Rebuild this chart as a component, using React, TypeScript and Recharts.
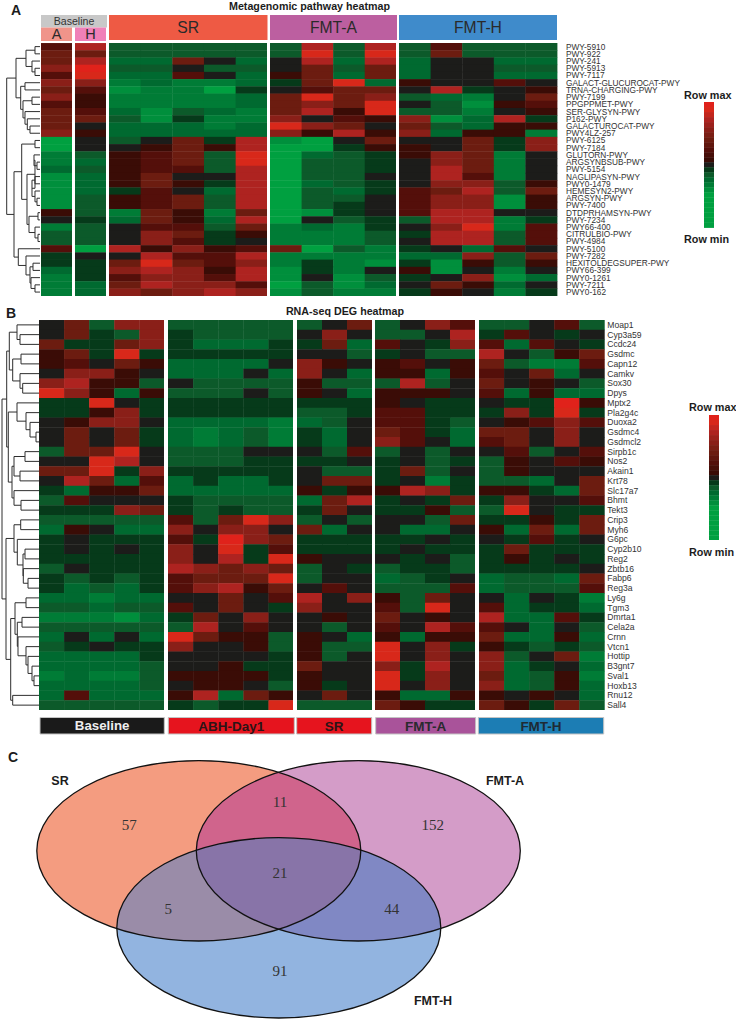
// App.tsx - metagenomic / RNA-seq heatmaps and Venn diagram
import { ScatterChart, Scatter, XAxis, YAxis, ReferenceArea, ReferenceLine } from "recharts";

const FONT = "Liberation Sans, Arial, sans-serif";

const PATHWAYS = [
  "PWY-5910", "PWY-922", "PWY-241", "PWY-5913", "PWY-7117", "GALACT-GLUCUROCAT-PWY", "TRNA-CHARGING-PWY",
  "PWY-7199", "PPGPPMET-PWY", "SER-GLYSYN-PWY", "P162-PWY", "GALACTUROCAT-PWY", "PWY4LZ-257", "PWY-6125",
  "PWY-7184", "GLUTORN-PWY", "ARGSYNBSUB-PWY", "PWY-5154", "NAGLIPASYN-PWY", "PWY0-1479", "HEMESYN2-PWY",
  "ARGSYN-PWY", "PWY-7400", "DTDPRHAMSYN-PWY", "PWY-7234", "PWY66-400", "CITRULBIO-PWY", "PWY-4984",
  "PWY-5100", "PWY-7282", "HEXITOLDEGSUPER-PWY", "PWY66-399", "PWY0-1261", "PWY-7211", "PWY0-162",
];

const GENES = [
  "Moap1", "Cyp3a59", "Ccdc24", "Gsdmc", "Capn12", "Camkv", "Sox30", "Dpys", "Mptx2", "Pla2g4c",
  "Duoxa2", "Gsdmc4", "Gsdmcl2", "Sirpb1c", "Nos2", "Akain1", "Krt78", "Slc17a7", "Bhmt", "Tekt3",
  "Crip3", "Myh6", "G6pc", "Cyp2b10", "Reg2", "Zbtb16", "Fabp6", "Reg3a", "Ly6g", "Tgm3",
  "Dmrta1", "Cela2a", "Crnn", "Vtcn1", "Hottip", "B3gnt7", "Sval1", "Hoxb13", "Rnu12", "Sall4",
];

// panel A values, -6 (row min) .. 6 (row max)
const A_BASE_A = [2, 3, 3, 4, 2, 4, 3, 4, 2, 3, 3, 3, 4, -6, -6, -4, -4, -3, -5, -5, -5, -5, -5, 1, 0, -4, -2, -2, 2, -1, -1, -3, -4, -4, -4];
const A_BASE_H = [5, 3, 5, 6.5, 6, 4, 2, 1, 1, 2, 3, 0, 1, 0, 0, -2, -3, -2, -3, -3, -3, -2, -2, -2, -1, -2, -2, -2, -6, 0, -1, -1, -1, -3, -3];
const A_SR = [
  [-2, -2, -2, -2, -2], [-2, -2, -2, -2, -2], [-3, -3, 3, 0, -3], [-2, -2, 0, -2, -2], [-3, -3, 2, 0, -3],
  [-4, -3, -4, -4, -3], [-5, -4, -4, -6, -1], [-4, -4, -4, -4, -3], [-4, -4, -4, -4, -3], [-3, -5, -2, -3, -4],
  [-2, -5, -1, -4, -4], [-3, -3, -3, -4, -3], [-3, -3, -3, -3, -3], [-2, 0, 3, -1, 5], [0, 1, 3, 1, 5],
  [1, 2, 3, -2, 6], [1, 2, 3, -2, 6], [1, 2, 2, -2, 5], [1, 3, 0, 0, 5], [1, 3, 1, -1, 5],
  [-1, 2, 0, -3, 5], [1, 2, 3, -2, 5], [1, 2, 3, -2, 5], [-4, 3, 1, -4, 3], [-3, 3, 1, -3, 5],
  [0, 2, 2, -2, 3], [0, 4, 3, -1, 1], [0, 4, 2, -1, 0], [5, 1, 4, 1, 2], [0, 5, 2, 2, 5],
  [3, 6, 3, 2, 4], [4, 5, 4, 1, 5], [2, 4, 4, 2, 5], [3, 5, 4, 4, 2], [4, 3, 4, 5, 4],
];
const A_FMT_A = [
  [-2, 5, -2, 5], [-2, 6, -2, 6], [0, 5, -3, 5], [0, 3, -2, 3], [1, 3, -3, 3],
  [-1, 3, 6, -3], [0, 2, 3, 3], [3, 6, 3, 4], [3, 4, 3, 6], [3, 5, 1, 6],
  [4, 0, 2, 1], [6, 4, 3, 0], [4, 1, 5, 1], [-5, -6, 0, 3], [-6, -6, -1, 1],
  [-6, -3, -2, -1], [-6, -2, -2, -1], [-6, -2, -2, -1], [-6, -2, -2, 0], [-6, -3, -2, -1],
  [-6, -2, -3, -1], [-6, -2, -2, 0], [-6, -2, -1, 0], [-6, -5, -1, 0], [-6, 0, -2, -1],
  [-4, -3, -4, -1], [-4, -4, -4, -2], [-4, -4, -4, -2], [3, -6, -2, -4], [-4, -4, -4, -4],
  [-4, -1, -4, -5], [-5, -1, -4, 0], [-5, 0, -5, -2], [-6, -2, -5, -3], [-5, -2, -4, -4],
];
const A_FMT_H = [
  [-2, 2, -2, -2, -2], [-2, 3, -2, -2, -2], [-3, 0, 0, -3, -3], [-3, 0, 0, -2, -2], [-3, 0, 0, -3, -3],
  [1, 0, 0, 2, 0], [0, 5, -1, 0, 1], [-2, -3, -4, 0, 3], [0, -2, -5, 1, 2], [-2, -2, -4, 0, 1],
  [4, -5, -3, 5, -1], [3, -2, -3, 1, 1], [4, -3, 1, 1, -4], [0, 0, 3, -1, 4], [1, 0, 3, -1, 4],
  [1, 4, 3, -4, 0], [0, 4, 3, -4, 0], [0, 5, 3, -4, 0], [0, 5, 2, -4, 0], [0, 4, 4, -2, 1],
  [2, 3, 5, -2, 3], [2, 4, 4, -5, 1], [2, 4, 4, -5, 1], [2, 5, 5, 0, 0], [-2, 5, 5, -4, -1],
  [0, 4, 6, -4, 2], [-1, 5, 5, -2, 2], [0, 5, 5, -2, 2], [-1, 0, -3, 2, 0], [-3, -3, 4, -2, 3],
  [-1, -5, 1, -2, 1], [1, -5, 0, -4, 0], [-1, 0, 4, -5, -3], [0, 3, 1, -3, 0], [-1, 1, 0, -4, -1],
];

// panel B values
const B_BASE = [
  [0, 3, -2, 4, 4], [0, 3, -1, -2, 4], [3, -1, -1, 3, 4], [1, 3, -1, 6, -1], [1, 2, 0, 3, 1],
  [0, 4, 4, 1, 0], [4, 5, 1, 1, -2], [6, 4, 1, -3, 1], [-1, -1, 6, 0, -1], [-1, -1, 1, 4, -1],
  [0, 1, 4, 4, 0], [0, 3, 0, 3, -1], [0, 3, 0, 3, -1], [-2, 3, 3, 6, 0], [0, 0, 6, 5, 0],
  [3, 3, 6, -1, 4], [0, 5, 3, -3, 2], [-1, -3, 1, 1, 3], [-2, 2, 0, 0, 0], [-1, -1, -1, 4, 3],
  [-2, -2, -2, -2, -2], [-3, 1, 0, -3, -3], [-1, 0, -1, -1, -1], [-1, 0, -1, 0, -1], [-1, -1, -1, -1, -1],
  [-2, 0, -1, -1, -1], [-1, -2, -1, -2, -1], [-1, -3, -2, -3, -1], [-3, -3, -4, -3, -3], [-2, -2, -3, -2, -2],
  [-4, -4, -4, -5, -3], [-2, -2, -2, -2, -2], [-3, 0, -3, 0, -3], [-2, -1, 0, -1, -1], [-3, -3, -3, -3, -1],
  [-3, -3, -3, -3, -2], [-4, -3, -4, -4, -2], [-3, -3, -3, -3, -2], [-3, 2, -3, -3, -3], [-2, -2, -2, -2, -2],
];
const B_ABH = [
  [-2, -2, -2, -2, -2], [-1, -2, -2, -2, -2], [-1, -3, -3, -3, -1], [-1, -1, -1, -1, -1], [-3, -3, -3, -3, 0],
  [-3, -3, -3, 0, -3], [0, -2, -2, -2, -2], [-2, -2, -2, 0, -2], [-1, -1, -1, -1, -1], [-1, -1, -1, -1, -1],
  [-3, -3, -3, -3, -4], [-3, -4, -3, -2, -4], [-3, -4, -3, -2, -4], [-2, -2, -2, 0, 0], [-2, -2, -2, -1, -1],
  [-1, -1, -1, -1, -1], [-3, -1, -3, -3, -1], [-3, -3, -3, -3, -3], [-1, -2, -2, -2, -2], [-1, -2, -1, -2, -2],
  [2, -2, 3, 6, 4], [4, 0, 4, 4, 0], [2, -1, 6.5, 4, 3], [4, 0, 6, -1, 2], [4, 0, 5, -1, 6],
  [5, 4, 3, 4, 3], [2, 3, 3, 3, 6], [2, 4, 5, 1, 3], [0, 0, 3, 0, 2], [2, 0, 3, 0, -1],
  [-1, 3, 0, 4, 0], [-2, 5, 0, 2, 0], [6, 3, 1, 1, -2], [4, 0, 0, 1, -2], [0, 0, 0, 0, -1],
  [0, 0, 1, -1, -1], [1, 1, 1, 1, -1], [0, 1, 1, 0, -2], [1, 5, -3, 3, 1], [-1, -2, -1, -1, 6],
];
const B_SR = [
  [-2, 0, 3], [0, 4, 0], [-1, 3, -3], [0, 0, -2], [4, 1, 0], [4, 0, -3], [1, -2, -2], [1, 0, -3], [-1, -1, -1], [-2, -2, -1],
  [-3, -2, 0], [-1, -3, 0], [-1, -3, 0], [0, -2, 2], [-1, -1, 0], [0, -2, -2], [0, 3, 3], [1, -1, 1], [-3, 3, 5], [-1, 3, 0],
  [-2, 0, -2], [3, -3, 0], [-1, -1, -1], [-1, -1, -1], [1, 0, 0], [-2, 0, -1], [-2, 0, 0], [0, 2, 0], [5, 0, 4], [4, 0, 0],
  [0, 1, 0], [0, -2, 0], [1, 0, -3], [1, -2, -2], [1, -2, 0], [3, 0, 0], [1, 0, 0], [1, -1, 0], [0, 3, 0], [-2, -2, -2],
];
const B_FMT_A = [
  [-2, 0, 4, 2], [-2, -2, 0, 5], [2, 0, -1, 4], [-1, 0, -2, -2], [1, 2, 0, 1],
  [1, 1, -3, 1], [-2, 5, -2, 0], [1, 1, 1, 0], [1, 0, -1, -1], [2, 2, -1, -1],
  [2, 2, -1, -2], [3, 2, -1, -3], [4, 2, 0, -3], [-2, 0, -2, 0], [-1, 0, -2, -1],
  [-1, 3, -2, 0], [-1, 0, -4, -1], [1, 5, 4, -1], [-1, 0, -1, 3], [-1, -1, 1, -2],
  [0, 0, -2, 3], [0, -3, -3, 0], [-1, -1, 0, -1], [-1, 0, -1, -1], [0, -1, 0, -2],
  [-2, -1, -1, -2], [-3, -2, -1, 0], [-2, -2, -2, 2], [1, -2, 3, 0], [2, -2, 6, 0],
  [3, 0, 1, 0], [2, 0, 5, 2], [1, -3, 1, 1], [6, 0, 4, -1], [6, 0, 4, 0],
  [4, -1, 5, 0], [6, -1, 4, 0], [6, 0, 4, 0], [1, -3, -3, 1], [3, 1, -1, -1],
];
const B_FMT_H = [
  [-2, -2, 0, 2, -2], [-1, 2, 0, -1, 0], [2, -3, 2, 0, -1], [5, 0, -2, 1, 3], [3, -2, -4, -4, 2],
  [2, 0, 3, -3, 0], [3, 0, 1, 0, -2], [2, -3, 1, -3, -3], [0, -1, -1, 6.5, 1], [-1, 4, -1, 6, -1],
  [0, 1, 2, 4, 2], [3, 3, 0, 4, 0], [2, 3, 0, 4, 0], [0, 2, -2, 0, 2], [-2, 1, 0, 2, 1],
  [-2, 1, 0, 0, 0], [-2, -2, -3, 0, 3], [1, 1, -1, -3, 3], [-1, 4, 0, 0, 2], [-2, 6, 0, -1, -1],
  [-1, -1, 1, -1, 3], [1, -3, 3, -3, 3], [0, -1, 2, -1, 0], [-1, 3, -1, -1, -1], [-1, 1, -1, 0, -1],
  [-1, -1, -1, -1, 0], [-3, -2, -2, -3, 3], [-3, -2, -2, -2, 2], [0, -3, 0, -1, -4], [2, -3, -1, -1, -3],
  [5, -3, -3, 2, -1], [2, 0, -3, 0, -2], [3, -3, -3, 1, -3], [1, -1, -2, -1, -2], [4, -2, 0, 3, -4],
  [4, -3, -1, 0, -3], [3, -3, -2, 1, -4], [4, -3, -2, 1, -3], [1, 0, 1, 0, -3], [3, 1, -1, 3, -2],
];

// colour bar levels, top to bottom
const BAR_LEVELS = [6.5, 6, 5.5, 5, 4.5, 4, 3.5, 3, 2.5, 2, 1.5, 1, 0, -1, -2, -3, -4, -5, -6, -6, -6, -6, -6, -6, -6];

// dendrograms: [merge position, child, child], a bare number is a row
const TREE_A = [6.7,
  [16,
    [26, [35, 0, 1], [32, 2, [35, 3, 4]]],
    [20.7, [25, 5, 6], [23, [32, 7, 8], [25, 9, [27.3, 10, [30, 11, 12]]]]]],
  [14,
    [21.7, [35, 13, 14],
      [27, [35, [34, 15, [37, 16, 17]], [32, [35, 18, 19], [35, 20, [37, 21, 22]]]],
        [29, [38, 23, 24], [35, 25, [38, 26, 27]]]]],
    [18.3, 28, [26, 29, [30, [33, 30, 31], [31, 32, [35, 33, 34]]]]]]];

const TREE_B = [2,
  [6.7,
    [9.3, [17, 0, [20, 1, 2]], [12.7, [21, 3, 4], [20, 5, [22.7, 6, 7]]]],
    [8.3, [17, 8, [26, 9, [30, 10, [36, 11, 12]]]],
      [12, [14, [25, 13, 14], [20, 15, 16]], [14, 17, [21, 18, 19]]]]],
  [6,
    [14, [20.7, 20, 21], [17.3, 22, [23, [25, 23, 24], [23.3, 25, [28, 26, 27]]]]],
    [10.7,
      [15, [26, 28, 29], [17.3, [22, 30, 31], [18, 32, [26, 33, [28, 34, [32, 35, [34, 36, 37]]]]]]],
      [12.7, 38, 39]]]];

const A_HEADERS = ["SR", "FMT-A", "FMT-H"];
const A_HEADER_COLORS = ["#ee5a44", "#bc5fa0", "#3f8bcb"];
const B_FOOTERS = ["Baseline", "ABH-Day1", "SR", "FMT-A", "FMT-H"];
const B_FOOTER_COLORS = ["#1a1a1a", "#e6141e", "#e6141e", "#a9539a", "#1c7db4"];
const B_FOOTER_TEXT = ["#eeeeee", "#2c1416", "#2c1416", "#2a2a2e", "#1e2a34"];

const VENN_SETS = ["SR", "FMT-A", "FMT-H"];
const VENN_FILLS = ["#f49c80", "#d49cc8", "#92b4e0"];
const VENN_COUNTS = [57, 11, 152, 21, 5, 44, 91];

// layout, in page pixels
const A_TOP = 43.4;
const A_HEIGHT = 252.7;
const B_TOP = 320;
const B_HEIGHT = 390;
const A_SPANS = [[109, 267.5], [270, 397], [399, 557]];
const B_SPANS = [[40, 164.3], [168.3, 294.3], [296.7, 371.7], [375.7, 475.7], [478.3, 603.7]];
const VENN_CENTERS = [[198.8, 850.8], [358.3, 850.8], [278.8, 927.8]];
const VENN_RX = 162;
const VENN_RY = 90.2;
const VENN_COUNT_POS = [[129.3, 825], [280, 802.3], [432.7, 825], [280, 873.3], [168.3, 909.3], [391.7, 909.3], [280, 970.7]];
const VENN_NAME_POS = [[60, 780], [505, 780], [433, 1000]];

const HEAT_STOPS = [
  [0, 160, 64], [0, 143, 60], [0, 124, 54], [0, 106, 48], [12, 90, 42], [6, 58, 26], [28, 28, 26],
  [58, 12, 6], [84, 15, 10], [108, 28, 16], [138, 31, 24], [174, 35, 32], [216, 40, 26], [232, 28, 28],
];

function heatColor(v: number) {
  const t = Math.min(13, Math.max(0, v + 6));
  const lo = Math.floor(t);
  const hi = Math.min(13, lo + 1);
  const f = t - lo;
  const c = HEAT_STOPS[lo].map((s, i) => Math.round(s + (HEAT_STOPS[hi][i] - s) * f));
  return `rgb(${c[0]},${c[1]},${c[2]})`;
}

interface HeatProps {
  left: number;
  top: number;
  width: number;
  height: number;
  rows: number[][];
  labels?: string[];
  labelGap?: number;
}

function HeatBlock({ left, top, width, height, rows, labels, labelGap = 0 }: HeatProps) {
  const nCols = rows[0].length;
  const nRows = rows.length;
  const cells = rows.flatMap((row, r) => row.map((value, c) => ({ x: c + 0.5, y: r + 0.5, value })));
  const w = width / nCols;
  const h = height / nRows;
  const labelWidth = labels ? 140 : 0;
  return (
    <div style={{ position: "absolute", left, top }}>
      <ScatterChart width={width + labelWidth} height={height} margin={{ top: 0, right: 0, bottom: 0, left: 0 }}>
        <XAxis type="number" dataKey="x" domain={[0, nCols]} hide />
        {labels ? (
          <YAxis
            type="number"
            dataKey="y"
            orientation="right"
            domain={[0, nRows]}
            reversed
            width={labelWidth}
            ticks={labels.map((_, i) => i + 0.5)}
            interval={0}
            tickFormatter={(v: number) => labels[Math.floor(v)]}
            axisLine={false}
            tickLine={false}
            tickSize={0}
            tickMargin={labelGap}
            tick={{ fontSize: labelGap > 5 ? 8.3 : 8.6, fill: "#333", fontFamily: FONT }}
          />
        ) : (
          <YAxis type="number" dataKey="y" domain={[0, nRows]} reversed hide />
        )}
        <Scatter
          data={cells}
          isAnimationActive={false}
          shape={(p: any) => (
            <rect x={p.cx - w / 2} y={p.cy - h / 2} width={w + 0.4} height={h + 0.4} fill={heatColor(p.payload.value)} />
          )}
        />
      </ScatterChart>
    </div>
  );
}

// walks a tree, collects the dendrogram's lines
function treeLines(node: any, out: number[][]): number {
  const [pos, a, b] = node;
  const yOf = (child: any) => (typeof child === "number" ? child + 0.5 : treeLines(child, out));
  const posOf = (child: any) => (typeof child === "number" ? 40 : child[0]);
  const ya = yOf(a);
  const yb = yOf(b);
  out.push([pos, ya, pos, yb], [pos, ya, posOf(a), ya], [pos, yb, posOf(b), yb]);
  return (ya + yb) / 2;
}

function Dendrogram({ top, height, tree, nRows }: { top: number; height: number; tree: any; nRows: number }) {
  const lines: number[][] = [];
  treeLines(tree, lines);
  const ends = lines.map((l) => ({ x: l[0], y: l[1] }));
  return (
    <div style={{ position: "absolute", left: 0, top }}>
      <ScatterChart width={40} height={height} margin={{ top: 0, right: 0, bottom: 0, left: 0 }}>
        <XAxis type="number" dataKey="x" domain={[0, 40]} hide />
        <YAxis type="number" dataKey="y" domain={[0, nRows]} reversed hide />
        <Scatter data={ends} isAnimationActive={false} shape={() => <g />} />
        {lines.map((l, i) => (
          <ReferenceLine
            key={i}
            segment={[{ x: l[0], y: l[1] }, { x: l[2], y: l[3] }]}
            stroke="#2e2e2e"
            strokeWidth={1}
            ifOverflow="visible"
          />
        ))}
      </ScatterChart>
    </div>
  );
}

function Annotations() {
  const box = (x1: number, x2: number, y1: number, y2: number, fill: string, value: string, fontSize: number, color: string, weight = "normal", stroke = "none") => (
    <ReferenceArea
      key={value + x1}
      x1={x1}
      x2={x2}
      y1={y1}
      y2={y2}
      fill={fill}
      fillOpacity={1}
      stroke={stroke}
      ifOverflow="visible"
      label={{ value, position: "center", fontSize, fill: color, fontWeight: weight, fontFamily: FONT }}
    />
  );
  const words = { fontFamily: FONT, fontWeight: "bold", fill: "#1c1c1c" };
  return (
    <div style={{ position: "absolute", left: 0, top: 0 }}>
      <ScatterChart width={736} height={1019} margin={{ top: 0, right: 0, bottom: 0, left: 0 }}>
        <XAxis type="number" dataKey="x" domain={[0, 736]} hide />
        <YAxis type="number" dataKey="y" domain={[0, 1019]} reversed hide />
        <Scatter data={[{ x: 0, y: 0 }]} isAnimationActive={false} shape={() => <g />} />
        {box(41, 107, 15, 27.5, "#c8c8c8", "Baseline", 10.6, "#333")}
        {box(41, 72, 27.5, 41, "#f0948a", "A", 14.5, "#2a2a2a")}
        {box(75, 106, 27.5, 41, "#f080b8", "H", 14.5, "#2a2a2a")}
        {A_HEADERS.map((name, i) =>
          box(A_SPANS[i][0], A_SPANS[i][1], 15, 40, A_HEADER_COLORS[i], name, 15.7, "#2a2a2a"),
        )}
        {B_FOOTERS.map((name, i) =>
          box(B_SPANS[i][0], B_SPANS[i][1], 717.5, 734, B_FOOTER_COLORS[i], name, i === 0 ? 13.3 : 13.5, B_FOOTER_TEXT[i], "bold", "#c4c4c4"),
        )}
        <text x={11} y={14.5} fontSize={14} {...words}>A</text>
        <text x={6} y={317.5} fontSize={14} {...words}>B</text>
        <text x={8} y={762} fontSize={14} {...words}>C</text>
        <text x={309.5} y={9.5} textAnchor="middle" fontSize={10.7} {...words}>Metagenomic pathway heatmap</text>
        <text x={345} y={315} textAnchor="middle" fontSize={10.7} {...words}>RNA-seq DEG heatmap</text>
        <text x={684} y={99} fontSize={10.8} {...words}>Row max</text>
        <text x={684} y={243} fontSize={10.8} {...words}>Row min</text>
        <text x={689} y={411} fontSize={10.8} {...words}>Row max</text>
        <text x={689} y={555.5} fontSize={10.8} {...words}>Row min</text>
      </ScatterChart>
    </div>
  );
}

function Venn() {
  const sets = VENN_SETS.map((name, i) => ({ name, x: VENN_CENTERS[i][0], y: VENN_CENTERS[i][1], fill: VENN_FILLS[i] }));
  // overlaps: which set is painted, clipped by which others
  const overlaps = [
    { x: VENN_CENTERS[1][0], y: VENN_CENTERS[1][1], clips: ["SR"], fill: "#d0648c" },
    { x: VENN_CENTERS[2][0], y: VENN_CENTERS[2][1], clips: ["SR"], fill: "#9a8ca8" },
    { x: VENN_CENTERS[2][0], y: VENN_CENTERS[2][1], clips: ["FMT-A"], fill: "#8088c4" },
    { x: VENN_CENTERS[2][0], y: VENN_CENTERS[2][1], clips: ["SR", "FMT-A"], fill: "#8874a8" },
  ];
  const counts = VENN_COUNTS.map((count, i) => ({ count, x: VENN_COUNT_POS[i][0], y: VENN_COUNT_POS[i][1] }));
  const names = VENN_SETS.map((name, i) => ({ name, x: VENN_NAME_POS[i][0], y: VENN_NAME_POS[i][1] }));
  return (
    <div style={{ position: "absolute", left: 0, top: 0 }}>
      <ScatterChart width={736} height={1019} margin={{ top: 0, right: 0, bottom: 0, left: 0 }}>
        <XAxis type="number" dataKey="x" domain={[0, 736]} hide />
        <YAxis type="number" dataKey="y" domain={[0, 1019]} reversed hide />
        <Scatter
          data={sets}
          isAnimationActive={false}
          shape={(p: any) => (
            <g>
              <clipPath id={`venn-${p.payload.name}`}>
                <ellipse cx={p.cx} cy={p.cy} rx={VENN_RX} ry={VENN_RY} />
              </clipPath>
              <ellipse cx={p.cx} cy={p.cy} rx={VENN_RX} ry={VENN_RY} fill={p.payload.fill} />
            </g>
          )}
        />
        <Scatter
          data={overlaps}
          isAnimationActive={false}
          shape={(p: any) => {
            const clips = p.payload.clips;
            const inner = <ellipse cx={p.cx} cy={p.cy} rx={VENN_RX} ry={VENN_RY} fill={p.payload.fill} />;
            return clips.length === 1 ? (
              <g clipPath={`url(#venn-${clips[0]})`}>{inner}</g>
            ) : (
              <g clipPath={`url(#venn-${clips[0]})`}>
                <g clipPath={`url(#venn-${clips[1]})`}>{inner}</g>
              </g>
            );
          }}
        />
        <Scatter
          data={sets}
          isAnimationActive={false}
          shape={(p: any) => <ellipse cx={p.cx} cy={p.cy} rx={VENN_RX} ry={VENN_RY} fill="none" stroke="#111" strokeWidth={1.3} />}
        />
        <Scatter
          data={counts}
          isAnimationActive={false}
          shape={(p: any) => (
            <text x={p.cx} y={p.cy} dy={5} textAnchor="middle" fontSize={15} fontFamily="Liberation Serif, serif" fill="#333">
              {p.payload.count}
            </text>
          )}
        />
        <Scatter
          data={names}
          isAnimationActive={false}
          shape={(p: any) => (
            <text x={p.cx} y={p.cy} dy={4.5} textAnchor="middle" fontSize={12.5} fontWeight="bold" fontFamily={FONT} fill="#1c1c1c">
              {p.payload.name}
            </text>
          )}
        />
      </ScatterChart>
    </div>
  );
}

export default function App() {
  return (
    <div style={{ position: "absolute", left: 0, top: 0, width: 736, height: 1019, background: "#fff", overflow: "hidden" }}>
      <Annotations />
      <Venn />
      <Dendrogram top={A_TOP} height={A_HEIGHT} tree={TREE_A} nRows={35} />
      <HeatBlock left={40.5} top={A_TOP} width={31.7} height={A_HEIGHT} rows={A_BASE_A.map((v) => [v])} />
      <HeatBlock left={74.5} top={A_TOP} width={31.7} height={A_HEIGHT} rows={A_BASE_H.map((v) => [v])} />
      <HeatBlock left={109} top={A_TOP} width={158.3} height={A_HEIGHT} rows={A_SR} />
      <HeatBlock left={269.7} top={A_TOP} width={126.3} height={A_HEIGHT} rows={A_FMT_A} />
      <HeatBlock left={398.7} top={A_TOP} width={158} height={A_HEIGHT} rows={A_FMT_H} labels={PATHWAYS} labelGap={9} />
      <HeatBlock left={704} top={102} width={10} height={125.5} rows={BAR_LEVELS.map((v) => [v])} />
      <Dendrogram top={B_TOP} height={B_HEIGHT} tree={TREE_B} nRows={40} />
      <HeatBlock left={39} top={B_TOP} width={125.4} height={B_HEIGHT} rows={B_BASE} />
      <HeatBlock left={167.7} top={B_TOP} width={125.6} height={B_HEIGHT} rows={B_ABH} />
      <HeatBlock left={296.7} top={B_TOP} width={75} height={B_HEIGHT} rows={B_SR} />
      <HeatBlock left={375.3} top={B_TOP} width={100} height={B_HEIGHT} rows={B_FMT_A} />
      <HeatBlock left={479} top={B_TOP} width={125.3} height={B_HEIGHT} rows={B_FMT_H} labels={GENES} labelGap={3} />
      <HeatBlock left={709.3} top={414.7} width={10} height={125.3} rows={BAR_LEVELS.map((v) => [v])} />
    </div>
  );
}
